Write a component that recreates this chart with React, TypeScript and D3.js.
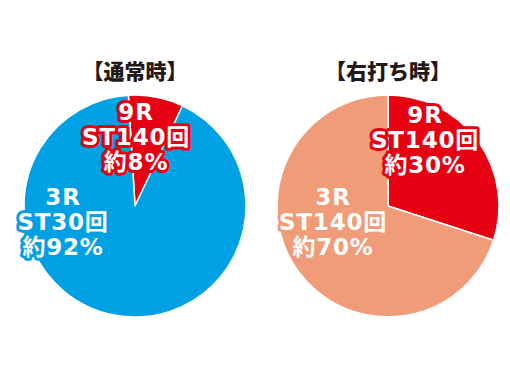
import React from 'react';
import * as d3 from 'd3';

// 通常時 / 右打ち時 の振り分け
const titles = ['【通常時】', '【右打ち時】'];
const normalRounds = ['9R', '3R'];
const normalST = ['ST140回', 'ST30回'];
const normalPct = [8, 92];
const rightRounds = ['9R', '3R'];
const rightST = ['ST140回', 'ST140回'];
const rightPct = [30, 70];

const W = 510;
const H = 392;
const R = 111;
const FONT = '"DejaVu Sans", "Noto Sans CJK JP", sans-serif';
const TITLE_FONT = '"Noto Sans CJK JP", sans-serif';

type Slice = { round: string; st: string; pct: number; color: string };

const Pie = ({ cx, cy, title, slices, offset, labelPos }: {
  cx: number; cy: number; title: string; slices: Slice[]; offset: number;
  labelPos: [number, number][];
}) => {
  const pie = d3.pie<Slice>().value(d => d.pct).sort(null)
    .startAngle(offset).endAngle(offset + Math.PI * 2);
  const arc = d3.arc<d3.PieArcDatum<Slice>>().innerRadius(0).outerRadius(R);
  const arcs = pie(slices);
  return (
    <g>
      <text x={cx} y={cy - 127} textAnchor="middle" fontFamily={TITLE_FONT} fontWeight={900}
        fontSize={21} fill="#231815">{title}</text>
      <g transform={`translate(${cx},${cy})`}>
        {arcs.map((a, i) => (
          <path key={i} d={arc(a) || ''} fill={a.data.color} stroke="#fff" strokeWidth={1.5} strokeLinejoin="round" />
        ))}
        {arcs.map((a, i) => {
          const [lx, ly] = labelPos[i];
          const lines = [a.data.round, a.data.st, `約${a.data.pct}%`];
          return (
            <text key={'t' + i} textAnchor="middle" fontFamily={FONT} fontWeight="bold"
              fontSize={23} fill="#fff" stroke={a.data.color} strokeWidth={6}
              strokeLinejoin="round" paintOrder="stroke" letterSpacing={0.8}>
              {lines.map((l, j) => (
                <tspan key={j} x={lx} y={ly + (j - 1) * 25} dy="0.36em">{l}</tspan>
              ))}
            </text>
          );
        })}
      </g>
    </g>
  );
};

const App = () => {
  const red = '#e60012';
  const blue = '#00a0e4';
  const salmon = '#f19c78';
  const left: Slice[] = normalPct.map((p, i) => ({
    round: normalRounds[i], st: normalST[i], pct: p, color: i === 0 ? red : blue,
  }));
  const right: Slice[] = rightPct.map((p, i) => ({
    round: rightRounds[i], st: rightST[i], pct: p, color: i === 0 ? red : salmon,
  }));
  return (
    <svg width={W} height={H} style={{ position: 'absolute', left: 0, top: 0 }}>
      <rect width={W} height={H} fill="#fff" />
      <Pie cx={135} cy={206} title={titles[0]} slices={left} offset={-0.06}
        labelPos={[[1, -69], [-72, 16]]} />
      <Pie cx={388} cy={206} title={titles[1]} slices={right} offset={0}
        labelPos={[[37, -66], [-55, 16]]} />
    </svg>
  );
};

export default App;
